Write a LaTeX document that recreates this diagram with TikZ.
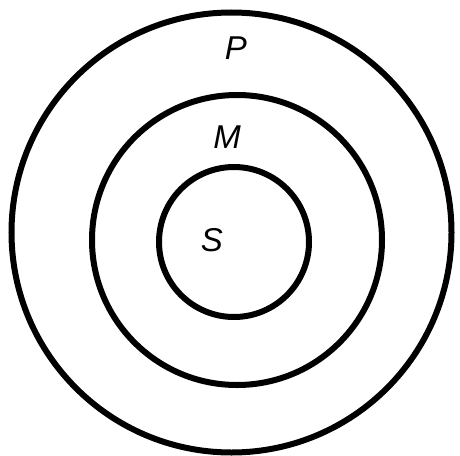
\documentclass[tikz,border=0pt]{standalone}
\usepackage{fontspec}
\setmainfont{Liberation Sans}
\begin{document}
\begin{tikzpicture}[x=1pt,y=-1pt,
  ring/.style={draw=black,line width=6pt,circle,inner sep=0pt},
  lbl/.style={font=\fontsize{33}{33}\selectfont\itshape,inner sep=0pt}]
\useasboundingbox (0,0) rectangle (460,455);
\node[ring,minimum size=440pt] (outer) at (231.5,232.5) {};
\node[ring,minimum size=290pt] (middle) at (237,240) {};
\node[ring,minimum size=150pt] (inner) at (234,242) {};
\node[lbl] (p) at (236,48) {P};
\node[lbl] (m) at (227,137) {M};
\node[lbl] (s) at (212,240) {S};
\end{tikzpicture}
\end{document}
